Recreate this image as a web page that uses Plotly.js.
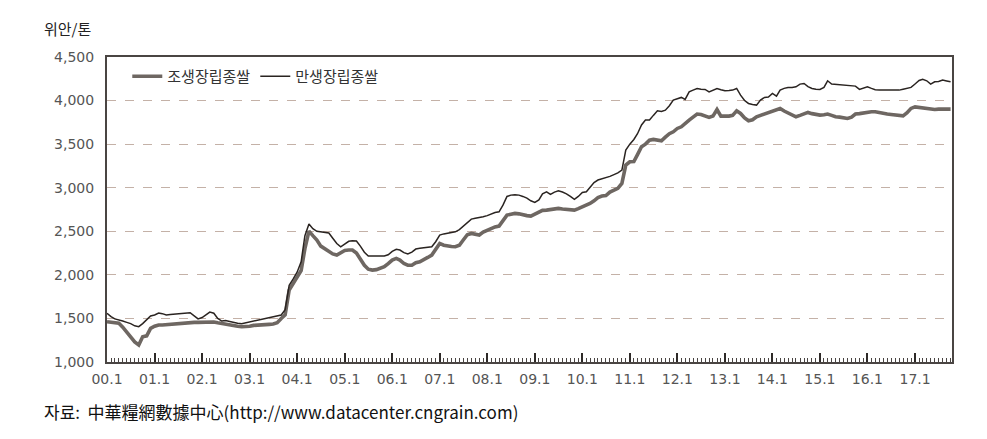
<!DOCTYPE html>
<html>
<head>
<meta charset="utf-8">
<script src="https://cdn.plot.ly/plotly-3.0.1.min.js"></script>
<style>
html,body{margin:0;padding:0;background:#fff;}
#chart{width:987px;height:439px;}
</style>
</head>
<body>
<div id="chart"></div>
<script>
// Monthly series from 2000.1 to 2017.10 (위안/톤)
var startYear = 2000;
var earlyIndica = [ // 조생장립종쌀
  1462,1455,1450,1444,1400,1340,1290,1230,1195,1290,1300,1386,
  1410,1424,1425,1430,1432,1435,1440,1442,1444,1450,1455,1455,
  1458,1460,1459,1459,1450,1440,1430,1425,1420,1410,1405,1405,
  1410,1420,1425,1428,1430,1432,1436,1450,1500,1540,1826,1900,
  1980,2050,2300,2502,2450,2400,2330,2300,2270,2240,2227,2250,
  2280,2285,2285,2250,2180,2110,2065,2055,2060,2075,2093,2130,
  2170,2189,2170,2130,2112,2110,2140,2150,2170,2200,2227,2300,
  2361,2340,2330,2325,2322,2340,2400,2460,2475,2465,2457,2490,
  2514,2530,2550,2560,2620,2686,2695,2705,2700,2685,2680,2675,
  2700,2725,2740,2743,2750,2758,2763,2755,2748,2745,2743,2760,
  2780,2800,2820,2850,2887,2904,2910,2950,2973,2992,3050,3260,
  3298,3300,3380,3470,3500,3546,3554,3545,3538,3580,3620,3642,
  3680,3699,3740,3776,3810,3845,3840,3820,3807,3822,3898,3822,
  3820,3822,3830,3882,3852,3800,3768,3780,3814,3830,3845,3852,
  3870,3890,3909,3880,3860,3845,3814,3830,3850,3864,3850,3840,
  3833,3838,3845,3830,3814,3810,3800,3795,3810,3845,3850,3860,
  3868,3871,3871,3860,3850,3845,3840,3835,3830,3825,3860,3910,
  3928,3920,3912,3909,3905,3898,3902,3905,3902,3902
];
var lateIndica = [ // 만생장립종쌀
  1559,1520,1495,1485,1470,1455,1440,1415,1405,1440,1490,1528,
  1540,1562,1555,1540,1545,1550,1552,1555,1560,1565,1530,1495,
  1510,1545,1573,1560,1500,1470,1475,1465,1450,1444,1440,1450,
  1459,1470,1480,1490,1500,1510,1520,1535,1539,1600,1880,1950,
  2030,2150,2450,2583,2530,2500,2495,2490,2480,2420,2360,2322,
  2350,2385,2391,2388,2330,2260,2216,2215,2215,2215,2216,2230,
  2270,2293,2285,2255,2239,2260,2296,2305,2310,2318,2322,2380,
  2457,2470,2480,2490,2494,2520,2560,2610,2640,2650,2655,2667,
  2680,2700,2715,2724,2800,2900,2915,2918,2915,2900,2880,2850,
  2832,2860,2930,2953,2923,2950,2965,2950,2930,2900,2866,2900,
  2945,2953,3000,3060,3088,3100,3110,3130,3150,3170,3202,3432,
  3500,3554,3620,3720,3776,3776,3830,3882,3875,3890,3940,4005,
  4020,4036,4013,4100,4120,4139,4130,4128,4100,4120,4139,4125,
  4112,4115,4120,4139,4062,4000,3967,3955,3948,4005,4036,4040,
  4082,4051,4120,4140,4150,4151,4158,4189,4196,4160,4139,4130,
  4128,4151,4227,4189,4185,4180,4177,4175,4170,4166,4128,4145,
  4158,4140,4125,4120,4120,4120,4120,4120,4120,4130,4140,4151,
  4190,4230,4243,4227,4189,4216,4220,4235,4225,4216
];
var tickLabels = ['00.1','01.1','02.1','03.1','04.1','05.1','06.1','07.1','08.1',
  '09.1','10.1','11.1','12.1','13.1','14.1','15.1','16.1','17.1'];
var yTicks = [1000,1500,2000,2500,3000,3500,4000,4500];
var yTickLabels = ['1,000','1,500','2,000','2,500','3,000','3,500','4,000','4,500'];
var seriesNames = ['조생장립종쌀','만생장립종쌀'];

function monthDate(i){
  var y = startYear + Math.floor(i/12), m = (i%12)+1;
  return y + '-' + (m<10?'0':'') + m + '-01';
}
var xDates = earlyIndica.map(function(_, i){ return monthDate(i); });
var tickVals = tickLabels.map(function(_, i){ return (startYear+i) + '-01-01'; });

var traces = [
  {x: xDates, y: earlyIndica, name: seriesNames[0], type:'scatter', mode:'lines',
   line:{color:'#6e6762', width:3.6}},
  {x: xDates, y: lateIndica, name: seriesNames[1], type:'scatter', mode:'lines',
   line:{color:'#2a2421', width:1.5}}
];

var layout = {
  width: 987, height: 439,
  margin: {l:107, r:35, t:57, b:77},
  paper_bgcolor:'#fff', plot_bgcolor:'#fff',
  showlegend: true,
  legend: {orientation:'h', x:0.024, y:0.99, xanchor:'left', yanchor:'top',
    font:{family:'Noto Sans CJK KR', size:15, color:'#333'}, bgcolor:'rgba(0,0,0,0)',
    itemwidth:30, tracegroupgap:0},
  xaxis: {
    type:'date',
    range:['2000-01-01','2017-10-12'],
    tickmode:'array', tickvals: tickVals, ticktext: tickLabels,
    ticks:'inside', ticklen:9, tickwidth:2, tickcolor:'#2e2a28',
    minor:{dtick:'M1', ticks:'inside', ticklen:4, tickwidth:1, tickcolor:'#4a4543', showgrid:false},
    showgrid:false, zeroline:false,
    showline:true, linecolor:'#4a4543', linewidth:2, mirror:true,
    tickfont:{family:'DejaVu Sans', size:14, color:'#555'},
    ticklabelstandoff: 3,
    fixedrange:true
  },
  yaxis: {
    range:[1000,4500],
    tickmode:'array', tickvals:yTicks, ticktext:yTickLabels,
    ticks:'', showgrid:true, gridcolor:'#c4b1a7', griddash:'dash', gridwidth:1,
    zeroline:false, showline:true, linecolor:'#4a4543', linewidth:2, mirror:true,
    tickfont:{family:'DejaVu Sans', size:14, color:'#555'},
    ticklabelstandoff: 8,
    fixedrange:true
  },
  annotations: [
    {text:'위안/톤', xref:'paper', yref:'paper', x:-0.077, y:1.053, xanchor:'left', yanchor:'bottom',
     showarrow:false, font:{family:'Noto Sans CJK KR', size:15, color:'#222'}},
    {text:'자료:  中華糧網數據中心(http://www.datacenter.cngrain.com)', xref:'paper', yref:'paper',
     x:-0.077, y:-0.115, xanchor:'left', yanchor:'top', showarrow:false,
     font:{family:'Noto Sans CJK KR', size:17, color:'#111'}}
  ]
};

Plotly.newPlot('chart', traces, layout, {displayModeBar:false, staticPlot:true});
</script>
</body>
</html>
